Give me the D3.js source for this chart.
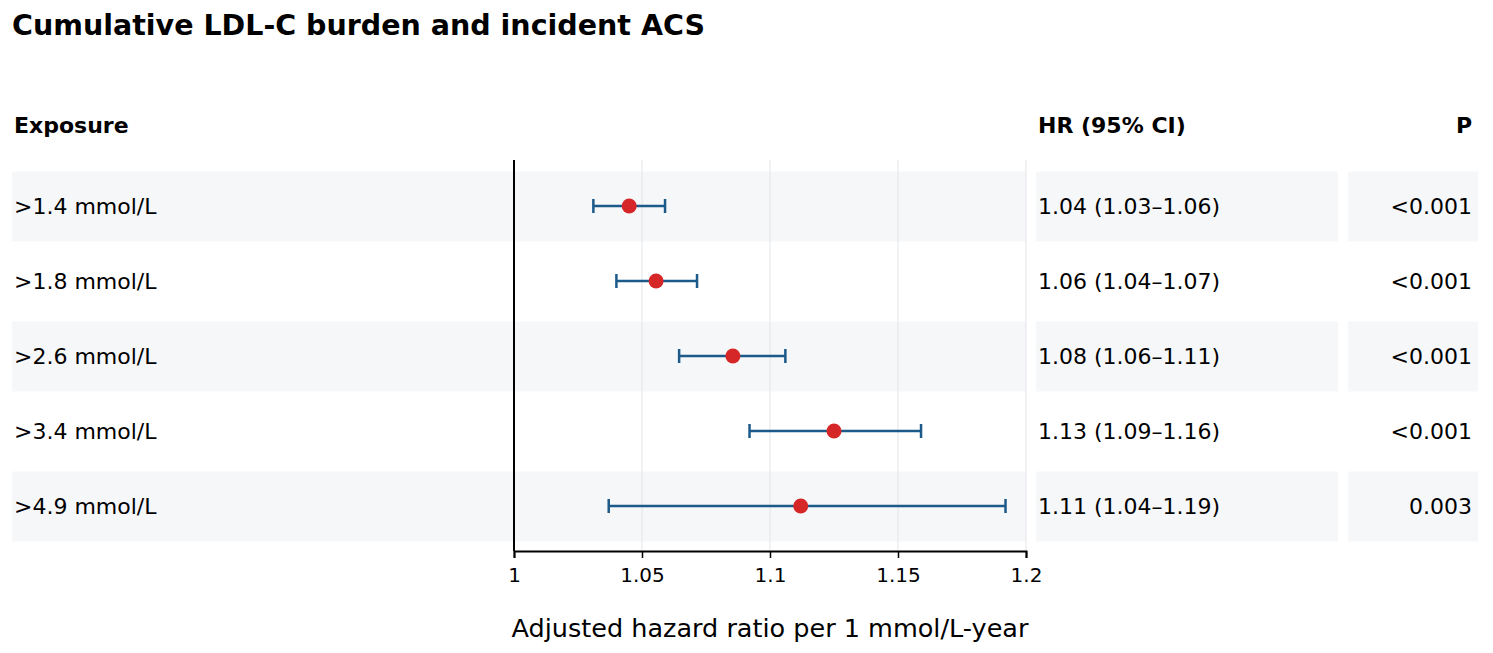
<!DOCTYPE html>
<html><head><meta charset="utf-8">
<script src="https://cdn.jsdelivr.net/npm/d3@7"></script>
<style>body{margin:0;background:#fff;font-family:"DejaVu Sans",sans-serif;}</style>
</head><body><div id="chart"></div>
<script>
const exposures = [">1.4 mmol/L", ">1.8 mmol/L", ">2.6 mmol/L", ">3.4 mmol/L", ">4.9 mmol/L"];
const hr = [1.045, 1.0555, 1.0855, 1.125, 1.112];
const lower = [1.031, 1.040, 1.0645, 1.092, 1.037];
const upper = [1.059, 1.0715, 1.106, 1.159, 1.192];
const hrLabels = ["1.04 (1.03\u20131.06)", "1.06 (1.04\u20131.07)", "1.08 (1.06\u20131.11)", "1.13 (1.09\u20131.16)", "1.11 (1.04\u20131.19)"];
const pLabels = ["<0.001", "<0.001", "<0.001", "<0.001", "0.003"];
const xTicks = [1, 1.05, 1.1, 1.15, 1.2];

const W = 1493, H = 653;
const svg = d3.select("#chart").append("svg").attr("width", W).attr("height", H);

const x = d3.scaleLinear().domain([1, 1.2]).range([514, 1026]);
const y = d3.scaleBand().domain(exposures).range([168.5, 543.5]);
const axisY = 551;

svg.append("text").attr("x", 12).attr("y", 35).style("font-size", "28.5px").style("font-weight", "bold")
    .text("Cumulative LDL-C burden and incident ACS");

// header
const hy = 133;
svg.append("text").attr("x", 14).attr("y", hy).style("font-size", "22px").style("font-weight", "bold").text("Exposure");
svg.append("text").attr("x", 1038).attr("y", hy).style("font-size", "22px").style("font-weight", "bold").text("HR (95% CI)");
svg.append("text").attr("x", 1472).attr("y", hy).attr("text-anchor", "end").style("font-size", "22px").style("font-weight", "bold").text("P");

// shaded bands
exposures.forEach((e, i) => {
    if (i % 2 !== 0) return;
    const by = y(e) + 3, bh = y.bandwidth() - 5;
    svg.append("rect").attr("x", 12).attr("y", by).attr("width", 1014).attr("height", bh).attr("fill", "#f6f7f9");
    svg.append("rect").attr("x", 1036).attr("y", by).attr("width", 302).attr("height", bh).attr("fill", "#f6f7f9");
    svg.append("rect").attr("x", 1348).attr("y", by).attr("width", 130).attr("height", bh).attr("fill", "#f6f7f9");
});

// grid
svg.selectAll(".grid").data(xTicks.slice(1)).enter().append("line")
    .attr("x1", d => x(d)).attr("x2", d => x(d)).attr("y1", 160).attr("y2", axisY)
    .attr("stroke", "#e3e5e8").attr("stroke-width", 1);

// left reference line
svg.append("line").attr("x1", x(1)).attr("x2", x(1)).attr("y1", 160).attr("y2", axisY)
    .attr("stroke", "#000").attr("stroke-width", 2);

// axis
const axis = d3.axisBottom(x).tickValues(xTicks).tickFormat(d3.format("")).tickSizeOuter(0).tickSize(7).tickPadding(10);
const ag = svg.append("g").attr("transform", `translate(0,${axisY})`).call(axis);
ag.select(".domain").attr("stroke-width", 2);
ag.selectAll(".tick line").attr("stroke-width", 1.5);
ag.selectAll("text").style("font-size", "20px").style("font-family", "DejaVu Sans");

svg.append("text").attr("x", x(1.1)).attr("y", 637).attr("text-anchor", "middle").style("font-size", "25.5px")
    .text("Adjusted hazard ratio per 1 mmol/L-year");

const blue = "#1c5a8a", red = "#d62728";
exposures.forEach((e, i) => {
    const cy = y(e) + y.bandwidth() / 2;
    svg.append("text").attr("x", 14).attr("y", cy + 8).style("font-size", "22px").text(e);
    svg.append("text").attr("x", 1038).attr("y", cy + 8).style("font-size", "22px").text(hrLabels[i]);
    svg.append("text").attr("x", 1472).attr("y", cy + 8).attr("text-anchor", "end").style("font-size", "22px").text(pLabels[i]);
    svg.append("line").attr("x1", x(lower[i])).attr("x2", x(upper[i])).attr("y1", cy).attr("y2", cy)
        .attr("stroke", blue).attr("stroke-width", 2.5);
    [lower[i], upper[i]].forEach(v => svg.append("line").attr("x1", x(v)).attr("x2", x(v))
        .attr("y1", cy - 7).attr("y2", cy + 7).attr("stroke", blue).attr("stroke-width", 2.5));
    svg.append("circle").attr("cx", x(hr[i])).attr("cy", cy).attr("r", 7.5).attr("fill", red);
});
</script></body></html>
